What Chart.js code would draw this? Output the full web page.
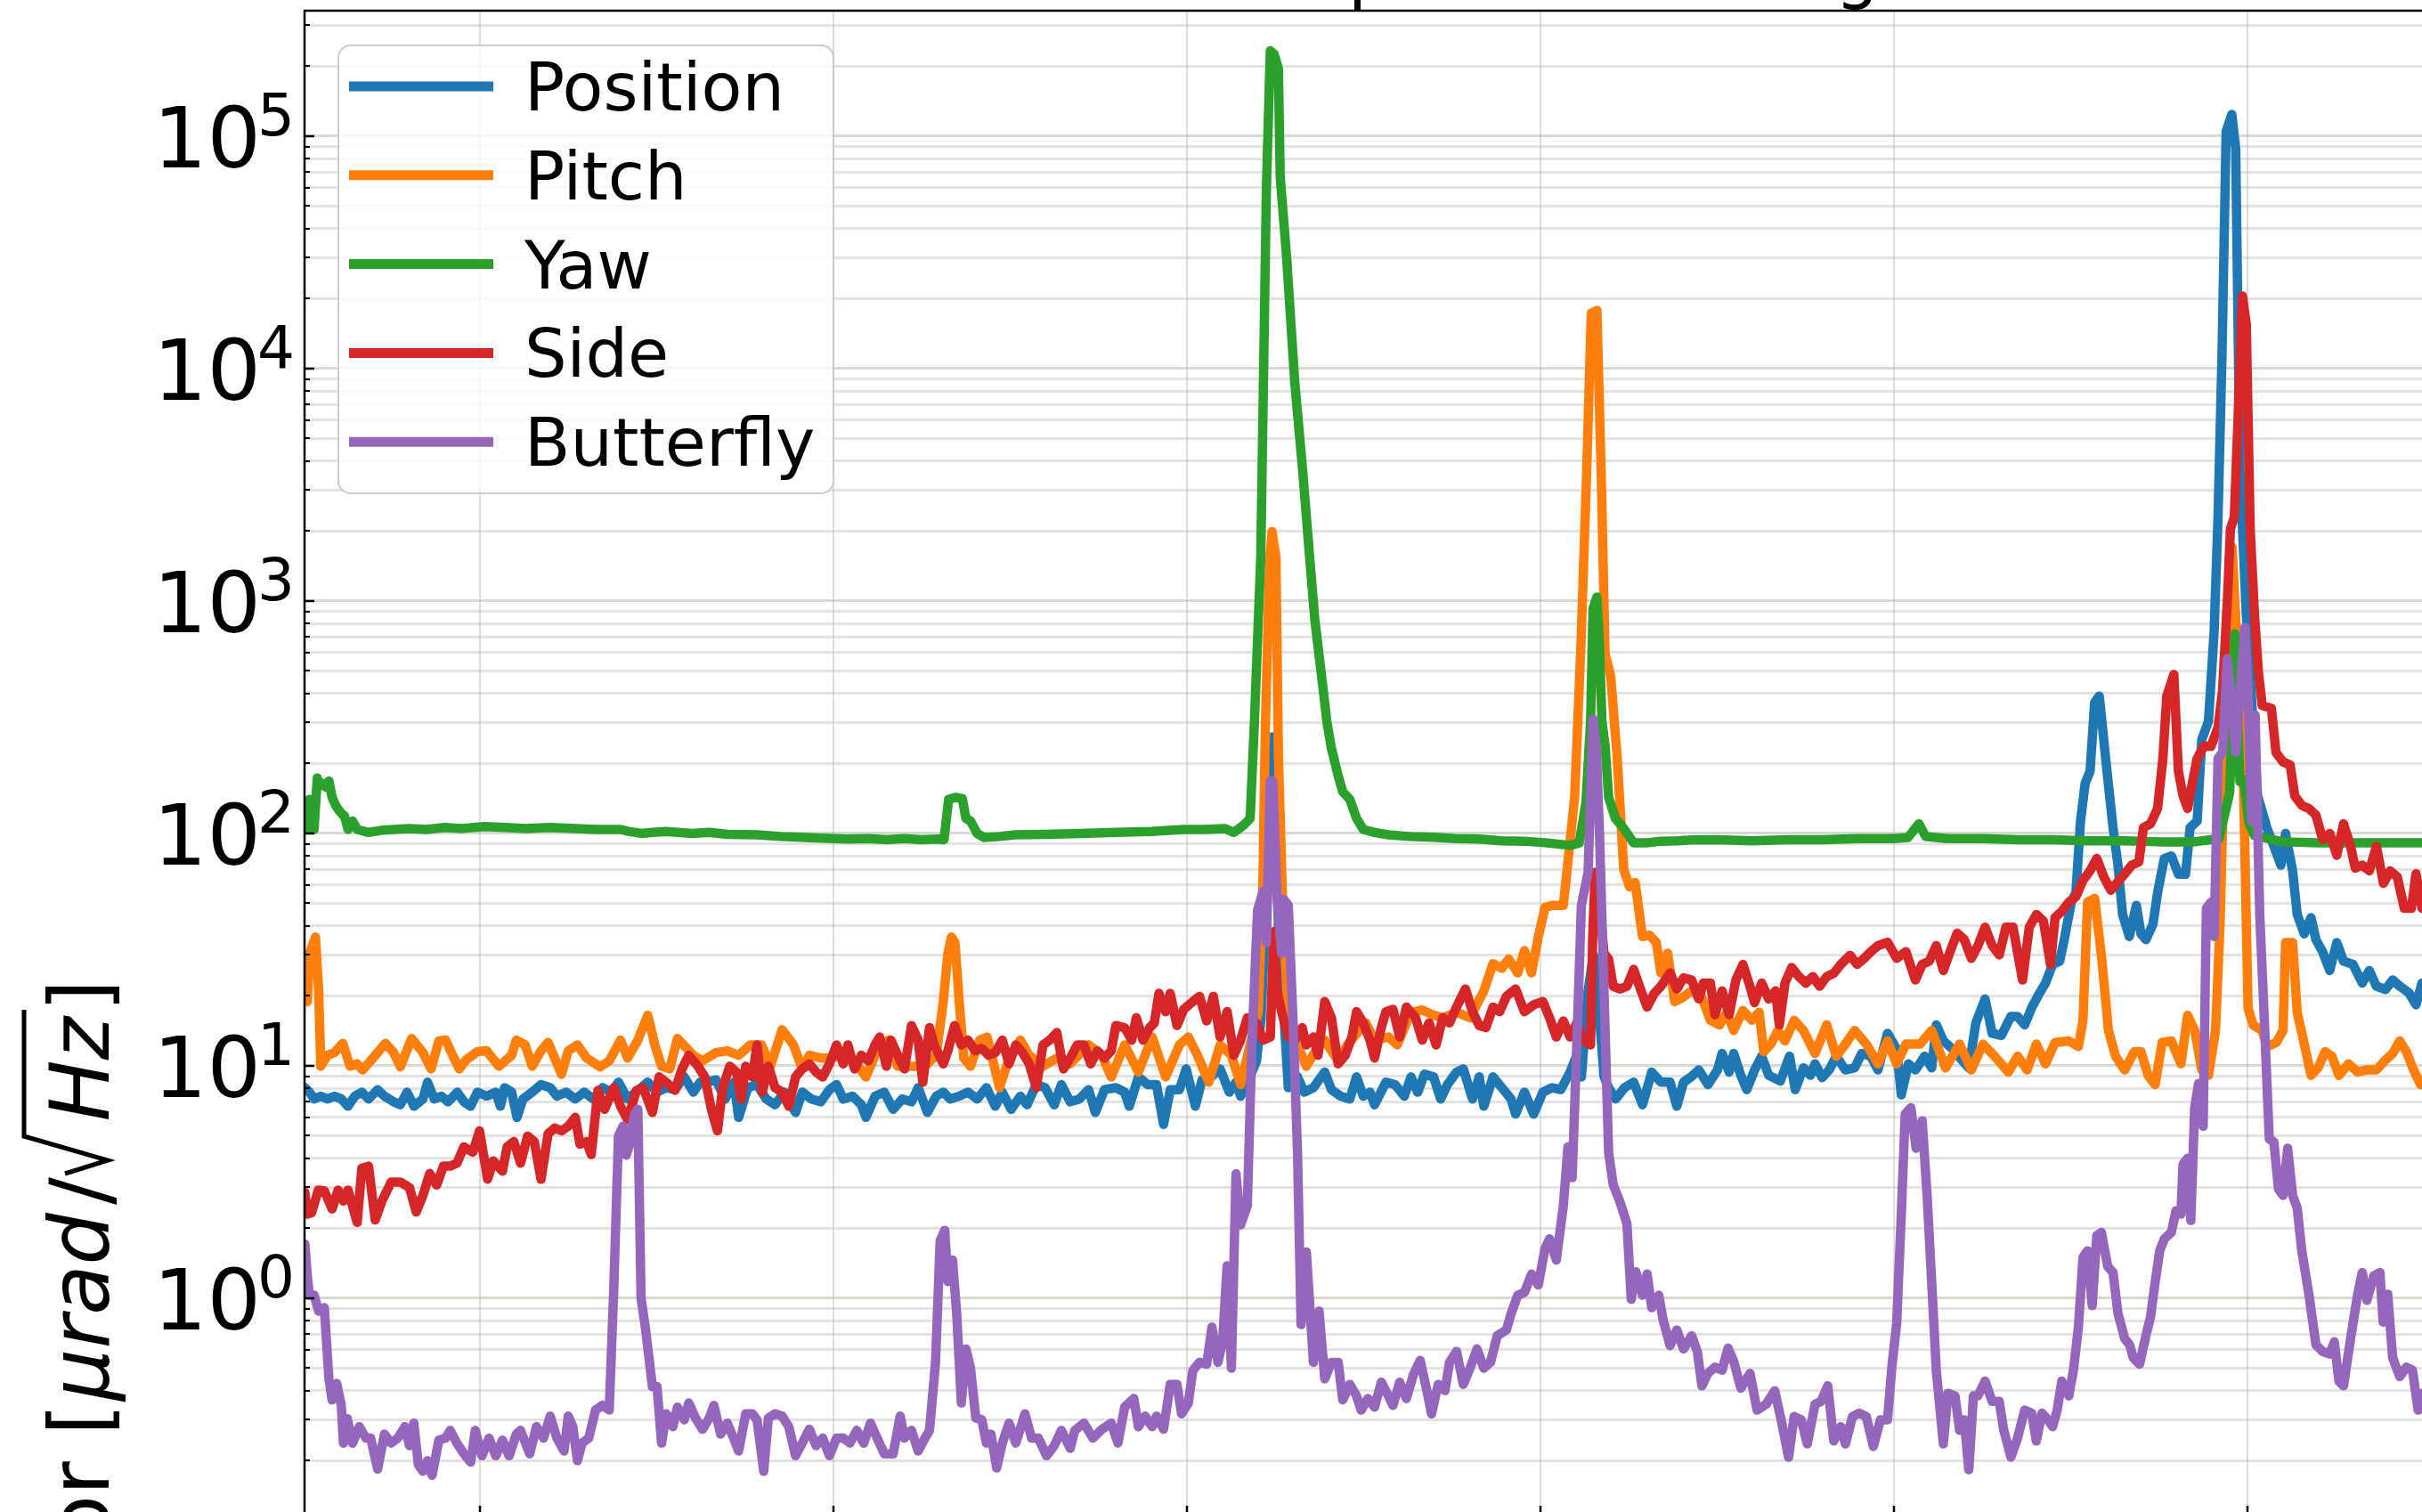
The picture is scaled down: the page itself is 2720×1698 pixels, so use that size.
<!-- Suspension sensor spectra, top panel (cropped view) -->
<html>
<head>
<meta charset="utf-8">
<title>Top Mass Sensing</title>
<style>
  body { margin: 0; background: #fff; overflow: hidden; }
  #wrap { width: 2720px; height: 1698px; overflow: hidden; position: relative; }
</style>
</head>
<body>
<div id="wrap">
  <canvas id="psd" width="2720" height="1706"></canvas>
</div>

<script src="https://cdn.jsdelivr.net/npm/chart.js"></script>
<script>
// ---- data: [x, amplitude] pairs ----
const seriesNames = ['Position', 'Pitch', 'Yaw', 'Side', 'Butterfly'];
const seriesColors = ['#1f77b4', '#ff7f0e', '#2ca02c', '#d62728', '#9467bd'];
const xTickValues = [1, 2, 3, 4, 5, 6];
const yTickExponents = [0, 1, 2, 3, 4, 5];
const titleText = 'Top Mass Sensing';
const yLabelPrefix = 'Sensor';

const positionData = [[0.505,8.05],[0.518,7.7],[0.531,7.2],[0.55,7.4],[0.569,7.2],[0.589,7.4],[0.608,7.2],[0.627,6.7],[0.646,7.4],[0.666,7.7],[0.685,7.2],[0.711,7.9],[0.73,7.4],[0.756,7.0],[0.775,6.8],[0.794,7.7],[0.814,6.7],[0.839,7.2],[0.852,8.5],[0.871,7.2],[0.891,7.4],[0.91,7.0],[0.936,7.7],[0.955,7.0],[0.974,6.7],[0.993,7.7],[1.019,7.4],[1.045,7.7],[1.058,6.7],[1.07,8.05],[1.09,7.7],[1.105,6.0],[1.122,7.2],[1.148,7.7],[1.173,8.3],[1.199,8.05],[1.218,7.4],[1.244,7.7],[1.27,7.2],[1.295,7.7],[1.321,7.2],[1.347,8.05],[1.372,7.7],[1.392,8.5],[1.418,7.2],[1.45,7.9],[1.475,8.5],[1.501,7.7],[1.527,8.05],[1.552,7.9],[1.578,8.96],[1.604,7.7],[1.623,8.5],[1.642,8.5],[1.668,8.7],[1.694,7.2],[1.719,8.5],[1.732,6.0],[1.758,8.05],[1.784,8.3],[1.81,7.2],[1.835,6.8],[1.861,7.7],[1.893,6.3],[1.912,7.7],[1.938,7.2],[1.964,7.0],[1.989,7.9],[2.009,8.3],[2.028,7.2],[2.054,7.4],[2.079,6.8],[2.092,6.0],[2.118,7.4],[2.144,7.7],[2.169,6.5],[2.195,7.2],[2.221,7.0],[2.24,8.05],[2.266,6.3],[2.291,7.4],[2.311,7.7],[2.33,7.2],[2.356,7.4],[2.381,7.7],[2.407,7.2],[2.433,8.05],[2.458,6.7],[2.478,7.7],[2.503,6.5],[2.529,7.4],[2.548,6.8],[2.574,8.3],[2.599,8.05],[2.625,6.8],[2.645,8.3],[2.67,7.0],[2.696,7.2],[2.722,7.9],[2.741,6.3],[2.767,7.9],[2.799,8.05],[2.824,7.7],[2.837,6.7],[2.863,8.96],[2.889,8.3],[2.914,8.3],[2.934,5.6],[2.953,7.9],[2.979,7.9],[2.998,9.7],[3.024,6.7],[3.043,8.7],[3.069,8.96],[3.094,9.7],[3.12,7.7],[3.139,8.5],[3.152,7.4],[3.178,8.96],[3.197,10.5],[3.21,16],[3.223,46.8],[3.232,100],[3.243,260],[3.252,80],[3.262,30],[3.274,17],[3.287,8.05],[3.313,8.96],[3.332,7.7],[3.358,8.05],[3.39,9.4],[3.409,7.9],[3.435,7.4],[3.461,7.2],[3.48,8.96],[3.499,7.4],[3.518,7.7],[3.531,6.8],[3.563,8.5],[3.589,8.3],[3.615,7.4],[3.634,8.96],[3.653,7.7],[3.672,9.2],[3.698,8.96],[3.718,7.2],[3.737,8.3],[3.763,9.4],[3.782,9.7],[3.808,7.2],[3.827,8.96],[3.84,6.7],[3.866,8.96],[3.891,8.05],[3.917,7.2],[3.93,6.2],[3.955,7.7],[3.981,6.2],[4.007,7.7],[4.033,8.05],[4.058,7.9],[4.084,9.4],[4.103,11.1],[4.116,8.96],[4.135,21],[4.15,30],[4.165,18],[4.18,9],[4.193,8.05],[4.213,7.2],[4.238,8.05],[4.264,8.5],[4.289,6.8],[4.315,9.4],[4.341,8.5],[4.367,8.5],[4.386,6.7],[4.405,8.5],[4.428,9.0],[4.448,9.6],[4.474,8.3],[4.501,9.6],[4.514,11.3],[4.534,9.4],[4.547,11.3],[4.567,9.1],[4.584,7.9],[4.606,9.6],[4.626,11],[4.646,9.1],[4.679,8.6],[4.705,11],[4.721,7.9],[4.744,9.8],[4.764,9.1],[4.777,10.2],[4.797,8.9],[4.817,9.6],[4.837,11],[4.863,9.6],[4.889,9.8],[4.909,11.3],[4.935,11],[4.955,9.6],[4.982,13.8],[5.008,11.8],[5.021,7.5],[5.041,10.2],[5.061,9.6],[5.087,11],[5.107,9.8],[5.12,15],[5.14,12.8],[5.166,11.8],[5.192,10.6],[5.212,9.8],[5.232,15.3],[5.258,19.4],[5.278,13.8],[5.304,13.5],[5.331,16.3],[5.35,16.3],[5.37,15],[5.39,17.8],[5.41,20.3],[5.429,22.7],[5.449,27.3],[5.469,28.2],[5.482,34.9],[5.502,50.6],[5.515,55.8],[5.528,113],[5.541,164],[5.555,185],[5.568,366],[5.581,390],[5.601,197],[5.62,106],[5.634,73],[5.647,44.8],[5.666,36],[5.686,49],[5.699,37],[5.713,34.9],[5.733,40.7],[5.746,55.6],[5.765,78],[5.785,80],[5.805,66.8],[5.825,66.8],[5.838,106],[5.858,113],[5.871,253],[5.89,304],[5.906,741],[5.917,2290],[5.928,11000],[5.94,105000],[5.956,124000],[5.967,88500],[5.979,3590],[5.997,879],[6.016,300],[6.029,145],[6.055,106],[6.075,88],[6.095,73],[6.108,100],[6.128,69],[6.141,44.8],[6.161,37],[6.18,43.4],[6.194,34.9],[6.213,30.9],[6.233,25.7],[6.253,33.9],[6.272,28.2],[6.299,27.3],[6.325,22.7],[6.345,25.7],[6.365,22],[6.391,21.3],[6.411,23.4],[6.431,22],[6.457,20.6],[6.477,18.3],[6.494,22.7]];

const pitchData = [[0.505,20],[0.512,18.9],[0.518,30.5],[0.535,35.8],[0.544,21],[0.55,9.96],[0.569,11.1],[0.589,11.4],[0.612,12.5],[0.633,9.96],[0.653,10.2],[0.668,9.6],[0.691,10.5],[0.717,11.7],[0.733,12.5],[0.756,11.4],[0.775,9.9],[0.807,13.1],[0.839,11.4],[0.862,9.7],[0.884,12.8],[0.903,12.9],[0.923,11.1],[0.942,9.7],[0.961,10.6],[0.993,11.5],[1.019,11.6],[1.054,9.96],[1.09,11.1],[1.103,12.9],[1.128,12.3],[1.148,9.96],[1.173,11.6],[1.193,12.6],[1.231,9.2],[1.25,11.6],[1.276,12.3],[1.302,10.8],[1.34,9.9],[1.366,10.5],[1.398,12.9],[1.418,10.8],[1.447,12.9],[1.475,16.5],[1.495,12.3],[1.514,9.96],[1.537,9.7],[1.559,13.1],[1.585,11.9],[1.604,11.1],[1.63,10.5],[1.668,11.4],[1.7,11.6],[1.732,11.1],[1.765,12.3],[1.797,12.3],[1.822,9.96],[1.855,14.3],[1.887,12.3],[1.912,9.7],[1.932,11.1],[1.964,10.8],[1.996,10.8],[2.028,11.1],[2.06,10.5],[2.092,8.96],[2.118,11.1],[2.156,12.9],[2.182,9.96],[2.221,9.96],[2.259,9.96],[2.291,11.1],[2.311,18.9],[2.324,30.5],[2.334,35.8],[2.344,33.9],[2.356,18.9],[2.369,10.8],[2.388,9.96],[2.414,12.9],[2.435,13.3],[2.47,8.05],[2.5,11.1],[2.529,12.9],[2.554,11.1],[2.593,9.96],[2.632,10.8],[2.67,10.2],[2.722,12.3],[2.76,11.1],[2.786,8.96],[2.824,12.3],[2.863,9.4],[2.902,13.3],[2.94,8.96],[2.979,12.3],[3.004,13.3],[3.03,11.1],[3.062,8.5],[3.094,12.3],[3.126,11.1],[3.152,8.3],[3.184,13.3],[3.202,17],[3.215,61],[3.222,285],[3.234,1455],[3.241,1990],[3.252,1540],[3.259,215],[3.271,50],[3.287,16],[3.313,12.3],[3.338,9.96],[3.364,11.6],[3.39,12.9],[3.428,10.5],[3.454,12.3],[3.506,15.3],[3.531,12.9],[3.57,13.3],[3.595,12.3],[3.634,17],[3.666,17.4],[3.698,16.5],[3.724,16.1],[3.763,17],[3.801,16.1],[3.84,21],[3.866,27.5],[3.891,26.3],[3.91,28.8],[3.936,25.1],[3.955,31.3],[3.975,25.1],[3.994,35.8],[4.013,48],[4.033,49],[4.065,49],[4.078,75.7],[4.097,143],[4.115,662],[4.131,3590],[4.144,17300],[4.16,17800],[4.172,3590],[4.183,592],[4.199,473],[4.217,215],[4.236,69.8],[4.252,59],[4.268,61.5],[4.289,36],[4.309,36.5],[4.328,33.9],[4.341,25.1],[4.36,30.5],[4.38,18.9],[4.405,19.8],[4.428,21],[4.455,20],[4.481,15.7],[4.507,15],[4.527,17],[4.547,14.2],[4.573,17.3],[4.599,15.7],[4.619,17],[4.632,11.5],[4.652,12.4],[4.672,14.2],[4.692,12.8],[4.718,15.7],[4.744,14.2],[4.777,11.3],[4.81,15],[4.837,11],[4.863,12.4],[4.889,14.2],[4.922,12.4],[4.955,10.2],[4.982,12.8],[5.008,10.2],[5.034,12.4],[5.074,12.4],[5.107,14.2],[5.146,9.8],[5.186,12.4],[5.219,9.6],[5.252,12.4],[5.285,11],[5.324,9.4],[5.35,11],[5.377,9.6],[5.403,12.4],[5.429,10.2],[5.456,12.6],[5.495,12.8],[5.522,12.1],[5.535,15.7],[5.548,50.6],[5.568,52.6],[5.588,29],[5.607,14.2],[5.627,11],[5.653,9.6],[5.68,11.5],[5.699,11.5],[5.719,9.1],[5.739,8.3],[5.759,12.6],[5.785,12.8],[5.812,10.2],[5.831,16.5],[5.851,14.2],[5.871,9.6],[5.89,9.1],[5.91,14.2],[5.923,42],[5.937,304],[5.95,977],[5.957,1700],[5.966,900],[5.976,400],[5.989,164],[6.002,17.7],[6.016,15],[6.042,14.2],[6.055,12.1],[6.082,12.6],[6.101,14.2],[6.108,33.9],[6.128,33.9],[6.141,17],[6.161,12.4],[6.18,9.1],[6.2,9.8],[6.22,11.5],[6.239,11],[6.259,9.1],[6.286,10.2],[6.312,9.4],[6.338,9.6],[6.365,9.6],[6.391,10.6],[6.411,11.3],[6.431,12.8],[6.45,11.5],[6.47,9.6],[6.49,8.3]];

const yawData = [[0.504,105],[0.512,104],[0.518,140],[0.525,120],[0.531,104],[0.54,173],[0.548,160],[0.556,164],[0.565,158],[0.573,168],[0.582,143],[0.592,132],[0.601,126],[0.61,121],[0.617,119],[0.627,104],[0.64,113],[0.653,104],[0.685,101],[0.72,103],[0.756,104],[0.8,105],[0.85,104],[0.9,106],[0.95,105],[1.013,107],[1.07,106],[1.13,105],[1.2,106],[1.27,105],[1.33,104],[1.398,104],[1.42,102],[1.456,100],[1.49,101],[1.527,102],[1.6,100],[1.65,101],[1.7,99],[1.784,98.6],[1.85,97],[1.92,96],[2.0,95],[2.041,94.6],[2.1,95],[2.15,94],[2.2,95],[2.25,94],[2.298,94.6],[2.313,94],[2.326,140],[2.345,143],[2.365,141],[2.375,116],[2.388,113],[2.407,100],[2.426,96],[2.47,97],[2.514,98.6],[2.6,99],[2.7,100],[2.8,101],[2.9,102],[2.991,104],[3.05,104],[3.107,105],[3.133,101],[3.159,108],[3.179,116],[3.191,300],[3.209,1540],[3.225,59700],[3.236,233000],[3.247,225000],[3.259,195000],[3.264,66800],[3.282,30400],[3.305,8810],[3.328,3580],[3.345,1700],[3.362,830],[3.385,423],[3.396,303],[3.409,232],[3.428,177],[3.441,151],[3.461,140],[3.48,116],[3.499,104],[3.531,101],[3.57,98.6],[3.63,97],[3.698,96.3],[3.76,95],[3.827,94.6],[3.89,93],[3.955,92.6],[4.02,91],[4.084,88.8],[4.11,91],[4.129,136],[4.142,303],[4.149,929],[4.16,1040],[4.167,662],[4.174,303],[4.183,240],[4.193,143],[4.212,116],[4.232,107],[4.264,91],[4.3,91],[4.341,92.6],[4.39,93],[4.428,93.8],[4.5,94],[4.6,93],[4.7,94],[4.8,94],[4.9,95],[5.0,95],[5.04,96],[5.071,110],[5.09,97],[5.15,95],[5.25,95],[5.35,94],[5.45,94],[5.55,93],[5.65,93],[5.75,92],[5.85,92],[5.92,95],[5.95,150],[5.965,722],[5.979,167],[5.99,170],[6.005,110],[6.02,98],[6.1,92],[6.2,91],[6.3,91],[6.4,91],[6.494,91]];

const sideData = [[0.505,2.85],[0.512,2.3],[0.524,2.33],[0.543,2.92],[0.56,2.9],[0.582,2.42],[0.599,2.92],[0.614,2.62],[0.627,2.92],[0.653,2.12],[0.666,3.62],[0.685,3.7],[0.704,2.17],[0.723,2.62],[0.749,3.16],[0.775,3.16],[0.801,2.99],[0.82,2.35],[0.839,2.77],[0.858,3.44],[0.878,3.07],[0.897,3.7],[0.916,3.7],[0.935,3.81],[0.955,4.48],[0.98,4.25],[0.999,5.25],[1.022,3.25],[1.038,3.9],[1.064,3.52],[1.077,4.48],[1.096,4.72],[1.115,3.81],[1.135,4.98],[1.154,4.72],[1.173,3.25],[1.193,5.1],[1.212,5.4],[1.231,5.25],[1.25,5.5],[1.27,6.0],[1.283,4.6],[1.302,4.72],[1.315,4.15],[1.334,7.84],[1.353,6.5],[1.379,8.05],[1.398,6.7],[1.418,5.86],[1.443,7.84],[1.462,8.05],[1.488,6.3],[1.507,8.96],[1.527,8.5],[1.552,7.84],[1.572,9.7],[1.591,11.1],[1.617,9.96],[1.636,8.96],[1.655,6.5],[1.672,5.25],[1.687,8.05],[1.707,9.96],[1.726,9.4],[1.739,7.2],[1.752,9.96],[1.771,8.96],[1.784,12.3],[1.799,7.7],[1.816,9.96],[1.835,8.05],[1.855,7.7],[1.874,6.7],[1.893,8.96],[1.912,9.7],[1.932,10.2],[1.951,9.4],[1.97,8.96],[1.989,10.2],[2.009,12.3],[2.028,10.2],[2.041,12.3],[2.06,9.7],[2.079,11.1],[2.099,10.5],[2.118,12.3],[2.131,13.3],[2.15,9.96],[2.163,12.9],[2.182,11.1],[2.201,9.7],[2.221,14.9],[2.24,12.9],[2.253,8.5],[2.272,14.6],[2.285,12.3],[2.311,10.2],[2.324,11.6],[2.343,14.9],[2.362,12.3],[2.381,12.9],[2.401,11.6],[2.42,11.9],[2.439,11.1],[2.458,11.4],[2.478,12.9],[2.497,10.2],[2.516,12.3],[2.535,11.4],[2.554,10.2],[2.574,8.05],[2.593,12.3],[2.612,12.9],[2.632,13.9],[2.651,9.7],[2.67,10.8],[2.69,12.3],[2.709,12.3],[2.728,10.2],[2.747,11.6],[2.767,10.8],[2.786,11.6],[2.799,14.9],[2.824,14.6],[2.844,12.9],[2.857,16.1],[2.876,12.9],[2.895,14.6],[2.908,15.3],[2.921,20.5],[2.94,17.1],[2.953,20.5],[2.972,14.9],[2.991,17.5],[3.017,18.9],[3.036,19.9],[3.056,15.6],[3.075,19.9],[3.094,13.3],[3.114,17.1],[3.133,11.1],[3.152,12.9],[3.171,16.1],[3.197,15.3],[3.216,12.9],[3.236,13.3],[3.246,37.8],[3.255,21],[3.268,17.1],[3.287,13.3],[3.306,12.9],[3.326,14.6],[3.338,12.3],[3.358,13.3],[3.371,11.1],[3.39,18.9],[3.409,16.1],[3.428,10.2],[3.448,11.1],[3.467,13.3],[3.48,17.1],[3.499,15.3],[3.518,12.9],[3.531,10.8],[3.55,14.6],[3.563,17.1],[3.583,17.5],[3.602,13.3],[3.621,17.9],[3.647,16.1],[3.666,12.9],[3.685,15.3],[3.705,12.3],[3.724,16.1],[3.743,15.3],[3.763,17.9],[3.788,21.4],[3.808,17.1],[3.827,14.9],[3.846,14.6],[3.866,17.9],[3.885,17.1],[3.904,19.9],[3.93,21.4],[3.955,17.1],[3.981,18.3],[4.007,18.9],[4.026,16.1],[4.045,13.3],[4.065,15.6],[4.084,13.3],[4.103,15.3],[4.122,12.9],[4.142,12.3],[4.148,35.8],[4.155,68],[4.167,50],[4.18,30.5],[4.193,28.8],[4.206,22],[4.225,21.4],[4.245,22],[4.264,26],[4.283,21.4],[4.302,17.9],[4.322,20.5],[4.341,22],[4.367,25.1],[4.386,21.4],[4.405,23.9],[4.428,23.4],[4.448,19.4],[4.461,22.7],[4.481,22.7],[4.494,16.6],[4.514,21],[4.534,16.6],[4.553,23.4],[4.573,27.3],[4.593,22],[4.606,18.7],[4.626,22.7],[4.646,19.4],[4.665,21],[4.676,15],[4.692,22.7],[4.711,26.5],[4.731,24.2],[4.751,22.7],[4.771,24.2],[4.79,22],[4.81,24.2],[4.83,25],[4.85,27.3],[4.876,29.9],[4.896,27.3],[4.916,29],[4.935,31],[4.955,32.9],[4.982,34],[5.008,29],[5.034,31],[5.061,23.4],[5.08,27.3],[5.1,28.2],[5.12,32.9],[5.14,25.7],[5.159,31],[5.179,37.2],[5.199,35],[5.219,29],[5.238,32.9],[5.258,39.5],[5.278,32.9],[5.298,30],[5.317,39.5],[5.337,39.5],[5.364,23.4],[5.383,39.5],[5.403,44.8],[5.423,42],[5.443,27.3],[5.456,43.5],[5.475,46.2],[5.495,50.6],[5.515,53.5],[5.535,62.8],[5.555,69],[5.574,78],[5.594,64.9],[5.614,57],[5.634,62],[5.653,67],[5.673,73],[5.693,75.4],[5.706,106],[5.726,110],[5.746,128],[5.761,210],[5.772,389],[5.792,483],[5.805,185],[5.818,145],[5.831,128],[5.844,164],[5.858,210],[5.877,237],[5.897,237],[5.917,286],[5.93,414],[5.944,1045],[5.952,2040],[5.963,2290],[5.974,6300],[5.986,20500],[5.997,15500],[6.008,2040],[6.02,880],[6.031,500],[6.042,355],[6.068,345],[6.081,223],[6.101,203],[6.121,197],[6.134,145],[6.154,132],[6.174,128],[6.194,120],[6.213,94],[6.233,100],[6.253,80.5],[6.272,110],[6.292,88],[6.305,71],[6.325,73],[6.345,69],[6.365,88],[6.385,61],[6.404,69],[6.424,65],[6.444,47.6],[6.464,47.6],[6.477,67],[6.494,47.6]];

const butterflyData = [[0.505,1.71],[0.512,1.24],[0.518,1.03],[0.531,1.03],[0.544,0.88],[0.56,0.91],[0.573,0.45],[0.582,0.365],[0.595,0.43],[0.608,0.346],[0.614,0.238],[0.625,0.303],[0.64,0.238],[0.659,0.28],[0.678,0.25],[0.691,0.25],[0.711,0.184],[0.73,0.26],[0.749,0.238],[0.768,0.25],[0.788,0.28],[0.801,0.232],[0.813,0.29],[0.826,0.192],[0.839,0.18],[0.852,0.2],[0.865,0.173],[0.884,0.245],[0.903,0.25],[0.916,0.27],[0.935,0.238],[0.955,0.214],[0.974,0.197],[0.987,0.27],[1.006,0.21],[1.026,0.25],[1.045,0.21],[1.064,0.245],[1.083,0.21],[1.103,0.26],[1.115,0.27],[1.141,0.214],[1.16,0.28],[1.18,0.25],[1.199,0.311],[1.218,0.25],[1.238,0.22],[1.25,0.311],[1.263,0.28],[1.276,0.2],[1.289,0.238],[1.308,0.25],[1.327,0.33],[1.347,0.346],[1.366,0.33],[1.379,1.12],[1.392,4.98],[1.405,5.5],[1.414,4.13],[1.424,4.6],[1.437,6.17],[1.447,6.5],[1.456,1.0],[1.469,0.73],[1.488,0.417],[1.501,0.417],[1.514,0.238],[1.527,0.318],[1.546,0.28],[1.559,0.34],[1.578,0.3],[1.591,0.354],[1.61,0.305],[1.63,0.273],[1.649,0.305],[1.662,0.346],[1.681,0.26],[1.7,0.29],[1.72,0.245],[1.732,0.22],[1.752,0.318],[1.771,0.318],[1.784,0.3],[1.803,0.18],[1.816,0.305],[1.835,0.318],[1.855,0.311],[1.874,0.28],[1.893,0.21],[1.912,0.238],[1.932,0.273],[1.951,0.232],[1.97,0.25],[1.989,0.21],[2.009,0.25],[2.028,0.25],[2.047,0.238],[2.066,0.27],[2.086,0.238],[2.105,0.29],[2.124,0.25],[2.144,0.214],[2.169,0.214],[2.189,0.311],[2.201,0.25],[2.221,0.27],[2.24,0.22],[2.259,0.25],[2.272,0.27],[2.289,0.53],[2.302,1.76],[2.315,1.96],[2.324,1.18],[2.337,1.46],[2.349,0.857],[2.362,0.354],[2.375,0.605],[2.388,0.5],[2.403,0.305],[2.42,0.3],[2.433,0.238],[2.446,0.26],[2.462,0.186],[2.478,0.238],[2.497,0.29],[2.516,0.238],[2.542,0.318],[2.561,0.25],[2.58,0.25],[2.603,0.21],[2.625,0.232],[2.645,0.27],[2.67,0.226],[2.683,0.27],[2.709,0.29],[2.734,0.25],[2.76,0.273],[2.786,0.29],[2.805,0.238],[2.824,0.34],[2.85,0.37],[2.863,0.28],[2.882,0.311],[2.902,0.28],[2.914,0.311],[2.934,0.273],[2.953,0.426],[2.972,0.426],[2.985,0.318],[3.004,0.354],[3.017,0.49],[3.036,0.53],[3.056,0.52],[3.071,0.75],[3.088,0.53],[3.101,0.65],[3.114,1.38],[3.126,0.5],[3.139,3.43],[3.152,2.07],[3.171,2.5],[3.184,12.3],[3.2,46.8],[3.216,56.4],[3.225,33.9],[3.236,168],[3.243,167],[3.255,55],[3.268,30.5],[3.274,52],[3.287,49],[3.3,16.1],[3.313,4.25],[3.323,0.77],[3.338,1.58],[3.358,0.53],[3.374,0.88],[3.39,0.45],[3.409,0.53],[3.428,0.53],[3.441,0.365],[3.461,0.426],[3.48,0.38],[3.493,0.33],[3.512,0.37],[3.531,0.34],[3.55,0.435],[3.57,0.38],[3.583,0.346],[3.602,0.435],[3.621,0.37],[3.641,0.47],[3.66,0.54],[3.679,0.4],[3.692,0.318],[3.711,0.426],[3.73,0.4],[3.743,0.53],[3.763,0.59],[3.782,0.426],[3.801,0.5],[3.821,0.605],[3.84,0.5],[3.859,0.53],[3.878,0.69],[3.904,0.73],[3.917,0.857],[3.936,1.03],[3.955,1.06],[3.975,1.27],[3.994,1.14],[4.013,1.63],[4.026,1.8],[4.045,1.46],[4.065,2.5],[4.078,4.48],[4.09,3.3],[4.103,12.3],[4.116,49],[4.135,68],[4.149,310],[4.158,232],[4.167,104],[4.18,21],[4.193,4.25],[4.206,3.08],[4.225,2.6],[4.245,2.09],[4.257,0.99],[4.27,1.3],[4.289,1.03],[4.302,1.27],[4.315,0.91],[4.335,1.03],[4.347,0.81],[4.367,0.625],[4.386,0.73],[4.405,0.605],[4.428,0.69],[4.444,0.59],[4.457,0.42],[4.474,0.475],[4.494,0.505],[4.514,0.49],[4.531,0.61],[4.547,0.535],[4.567,0.41],[4.593,0.475],[4.613,0.33],[4.639,0.35],[4.663,0.4],[4.681,0.3],[4.702,0.207],[4.718,0.31],[4.738,0.3],[4.755,0.236],[4.777,0.35],[4.794,0.36],[4.813,0.42],[4.83,0.243],[4.85,0.28],[4.863,0.236],[4.883,0.31],[4.902,0.32],[4.922,0.31],[4.942,0.23],[4.962,0.3],[4.982,0.3],[4.995,0.52],[5.008,0.78],[5.021,2.3],[5.032,6.2],[5.048,6.6],[5.063,4.42],[5.08,5.8],[5.094,2.77],[5.107,1.17],[5.12,0.49],[5.14,0.236],[5.153,0.39],[5.173,0.38],[5.186,0.27],[5.199,0.3],[5.212,0.183],[5.225,0.38],[5.238,0.38],[5.258,0.44],[5.278,0.36],[5.298,0.36],[5.311,0.27],[5.331,0.207],[5.35,0.25],[5.37,0.33],[5.39,0.32],[5.403,0.243],[5.419,0.32],[5.436,0.3],[5.449,0.28],[5.462,0.33],[5.475,0.44],[5.495,0.38],[5.508,0.49],[5.522,0.75],[5.535,1.5],[5.548,1.6],[5.561,0.93],[5.574,1.86],[5.587,1.92],[5.605,1.37],[5.62,1.29],[5.634,0.86],[5.653,0.67],[5.667,0.63],[5.677,0.555],[5.695,0.52],[5.713,0.69],[5.726,0.83],[5.739,1.17],[5.752,1.6],[5.765,1.8],[5.785,1.92],[5.798,2.38],[5.812,2.3],[5.818,3.77],[5.831,4.0],[5.84,2.16],[5.851,6.6],[5.862,8.4],[5.875,5.5],[5.884,47.6],[5.897,50.6],[5.906,36],[5.917,210],[5.93,224],[5.943,564],[5.954,389],[5.967,224],[5.98,414],[5.993,768],[6.002,414],[6.012,113],[6.022,323],[6.035,44.8],[6.048,15.7],[6.062,4.84],[6.075,4.7],[6.088,2.95],[6.101,2.77],[6.114,4.42],[6.128,2.77],[6.141,2.44],[6.154,1.6],[6.174,1.04],[6.194,0.63],[6.213,0.59],[6.233,0.575],[6.246,0.65],[6.259,0.44],[6.272,0.42],[6.292,0.67],[6.312,1.04],[6.325,1.29],[6.338,0.98],[6.358,1.25],[6.375,1.29],[6.384,0.79],[6.397,1.04],[6.411,0.555],[6.431,0.46],[6.45,0.505],[6.467,0.49],[6.483,0.33],[6.494,0.39]];

const allSeries = [positionData, pitchData, yawData, sideData, butterflyData];

// axis limits (visible part of the panel)
const X_MIN = 0.504, X_MAX = 6.494;
const Y_MIN = 0.1161, Y_MAX = 3.467e5;

function isDecade(v) {
    const l = Math.log10(v);
    return Math.abs(l - Math.round(l)) < 1e-6;
}

// minor + major positions for the log grid
function logGridValues() {
    let vals = [];
    for (let e = -1; e <= 5; e++) {
        for (let m = 1; m <= 9; m++) {
            let v = m * Math.pow(10, e);
            if (v >= Y_MIN && v <= Y_MAX) vals.push(v);
        }
    }
    return vals;
}

const FONT = '"DejaVu Sans", "Liberation Sans", sans-serif';

// spines, inward ticks, mathtext-like labels and the boxed legend
const decorations = {
    id: 'decorations',
    afterDraw(chart) {
        const ctx = chart.ctx;
        const a = chart.chartArea;
        const x = chart.scales.x, y = chart.scales.y;
        ctx.save();

        // spines (left + top; bottom sits just below the crop)
        ctx.strokeStyle = '#000';
        ctx.lineWidth = 2.5;
        ctx.lineCap = 'butt';
        ctx.beginPath();
        ctx.moveTo(a.left, a.bottom);
        ctx.lineTo(a.left, a.top);
        ctx.lineTo(a.right, a.top);
        ctx.stroke();

        // inward ticks
        y.ticks.forEach(t => {
            const py = Math.round(y.getPixelForValue(t.value));
            const major = isDecade(t.value);
            ctx.lineWidth = major ? 2.5 : 2;
            ctx.beginPath();
            ctx.moveTo(a.left, py);
            ctx.lineTo(a.left + (major ? 11 : 6), py);
            ctx.stroke();
        });
        x.ticks.forEach(t => {
            const px = Math.round(x.getPixelForValue(t.value));
            ctx.lineWidth = 2.5;
            ctx.beginPath();
            ctx.moveTo(px, a.bottom);
            ctx.lineTo(px, a.bottom - 11);
            ctx.stroke();
        });

        // y tick labels 10^n
        ctx.fillStyle = '#000';
        ctx.textBaseline = 'alphabetic';
        yTickExponents.forEach(e => {
            const py = y.getPixelForValue(Math.pow(10, e));
            ctx.font = '95px ' + FONT;
            ctx.textAlign = 'right';
            ctx.fillText('10', 293, py + 35);
            ctx.font = '66px ' + FONT;
            ctx.textAlign = 'left';
            ctx.fillText(String(e), 289, py - 1);
        });

        // title (only the descenders fall inside the crop)
        ctx.font = '77px ' + FONT;
        ctx.textAlign = 'left';
        ctx.fillText(titleText, 1433, -5);

        // y label, rotated, ends at y = 1100
        ctx.save();
        ctx.translate(122, 1100);
        ctx.rotate(-Math.PI / 2);
        ctx.textAlign = 'right';
        ctx.font = '92px ' + FONT;
        ctx.fillText(']', 0, 0);
        ctx.font = 'italic 92px ' + FONT;
        ctx.fillText('Hz', -42, 0);
        ctx.lineWidth = 5;
        ctx.lineJoin = 'miter';
        ctx.beginPath();
        ctx.moveTo(-218, -49);
        ctx.lineTo(-203, -1);
        ctx.lineTo(-176, -95);
        ctx.lineTo(-34, -95);
        ctx.stroke();
        ctx.font = '92px ' + FONT;
        ctx.fillText('/', -222, 0);
        ctx.font = 'italic 92px ' + FONT;
        ctx.fillText('\u03bcrad', -262, 0);
        ctx.font = '92px ' + FONT;
        ctx.fillText(yLabelPrefix + ' [', -476, 0);
        ctx.restore();

        // legend
        const lx = 380, ly = 51, lw = 556, lh = 503, r = 14;
        ctx.beginPath();
        ctx.moveTo(lx + r, ly);
        ctx.arcTo(lx + lw, ly, lx + lw, ly + lh, r);
        ctx.arcTo(lx + lw, ly + lh, lx, ly + lh, r);
        ctx.arcTo(lx, ly + lh, lx, ly, r);
        ctx.arcTo(lx, ly, lx + lw, ly, r);
        ctx.closePath();
        ctx.fillStyle = 'rgba(255,255,255,0.8)';
        ctx.fill();
        ctx.strokeStyle = '#cccccc';
        ctx.lineWidth = 2;
        ctx.stroke();

        ctx.font = '75px ' + FONT;
        ctx.textAlign = 'left';
        seriesNames.forEach((name, i) => {
            const cy = 97 + i * 99.8;
            ctx.strokeStyle = seriesColors[i];
            ctx.lineWidth = 11;
            ctx.lineCap = 'butt';
            ctx.beginPath();
            ctx.moveTo(392, cy);
            ctx.lineTo(554, cy);
            ctx.stroke();
            ctx.fillStyle = '#000';
            ctx.fillText(name, 589, cy + 27);
        });

        ctx.restore();
    }
};

const ctx = document.getElementById('psd').getContext('2d');
const chart = new Chart(ctx, {
    type: 'line',
    data: {
        datasets: allSeries.map((s, i) => ({
            label: seriesNames[i],
            data: s.map(p => ({ x: p[0], y: p[1] })),
            borderColor: seriesColors[i],
            backgroundColor: seriesColors[i],
            borderWidth: 10.5,
            pointRadius: 0,
            fill: false,
            tension: 0,
            borderJoinStyle: 'round',
            borderCapStyle: 'round',
            order: 5 - i,
            clip: 0
        }))
    },
    options: {
        responsive: false,
        animation: false,
        events: [],
        layout: { padding: { top: 12, right: 0, bottom: 4, left: 0 } },
        plugins: {
            legend: { display: false },
            tooltip: { enabled: false },
            title: { display: false }
        },
        scales: {
            x: {
                type: 'linear',
                min: X_MIN,
                max: X_MAX,
                ticks: { display: false },
                border: { display: false },
                grid: { drawTicks: false, color: 'rgba(170,170,170,0.4)', lineWidth: 2 },
                afterBuildTicks: s => { s.ticks = xTickValues.map(v => ({ value: v })); },
                afterFit: s => { s.height = 0; }
            },
            y: {
                type: 'logarithmic',
                min: Y_MIN,
                max: Y_MAX,
                ticks: { display: false },
                border: { display: false },
                grid: {
                    drawTicks: false,
                    color: c => isDecade(c.tick.value) ? 'rgba(180,180,170,0.5)' : 'rgba(185,185,175,0.4)',
                    lineWidth: 3
                },
                afterBuildTicks: s => { s.ticks = logGridValues().map(v => ({ value: v })); },
                afterFit: s => { s.width = 342; }
            }
        }
    },
    plugins: [decorations]
});
</script>
</body>
</html>
